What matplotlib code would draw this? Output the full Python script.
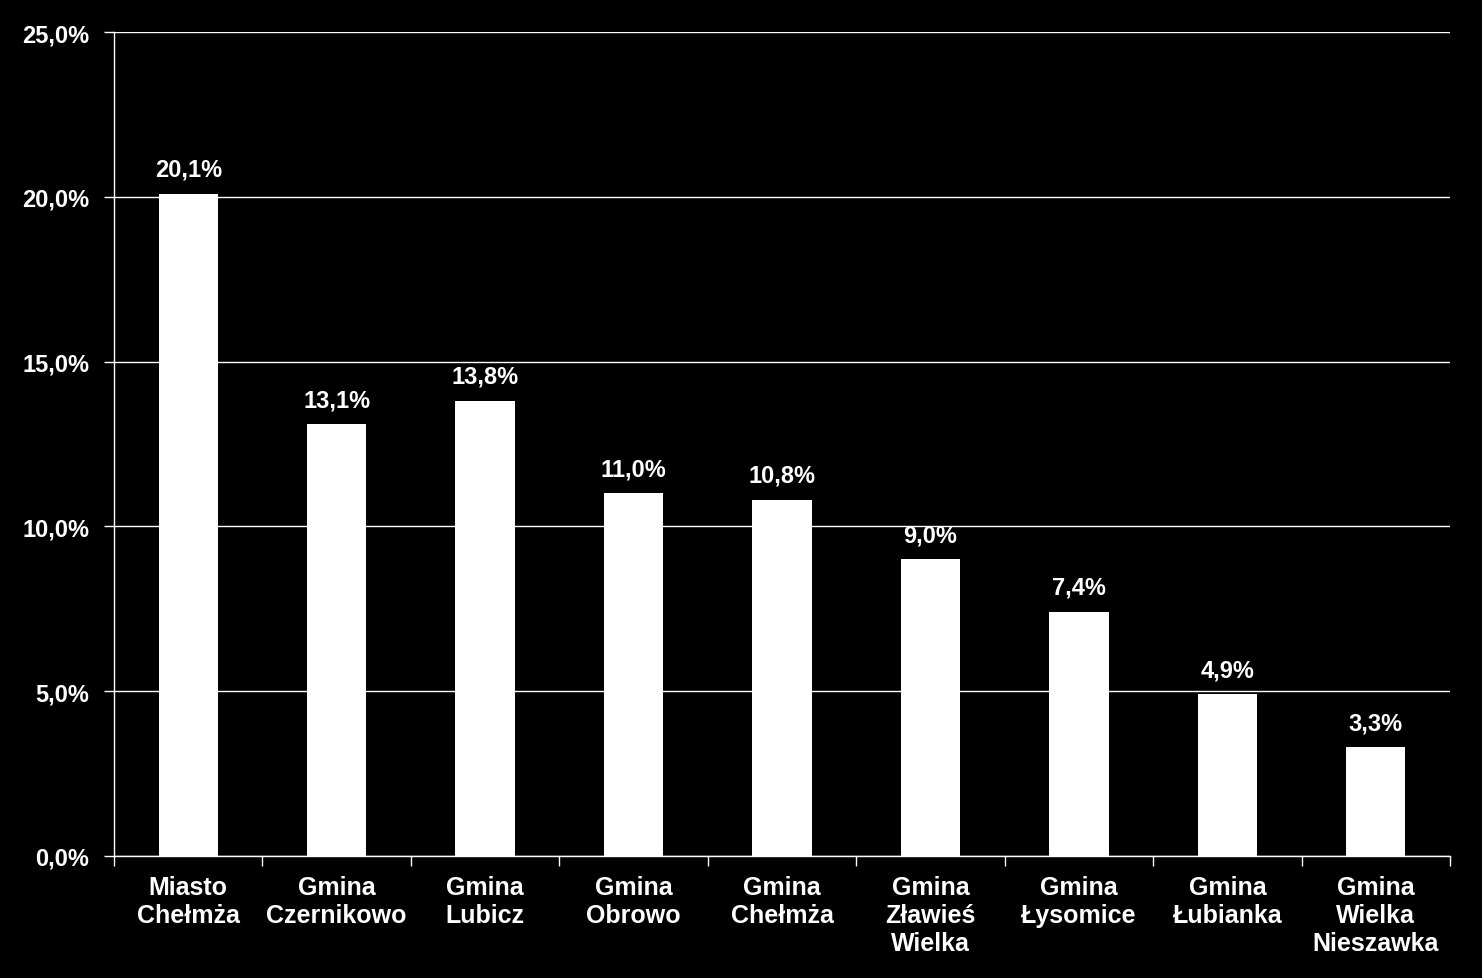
import matplotlib
matplotlib.use("Agg")
import matplotlib.pyplot as plt
from matplotlib.ticker import FuncFormatter, FixedLocator
import numpy as np

categories = ["Miasto\nChełmża", "Gmina\nCzernikowo", "Gmina\nLubicz", "Gmina\nObrowo",
              "Gmina\nChełmża", "Gmina\nZławieś\nWielka", "Gmina\nŁysomice",
              "Gmina\nŁubianka", "Gmina\nWielka\nNieszawka"]
values = [20.1, 13.1, 13.8, 11.0, 10.8, 9.0, 7.4, 4.9, 3.3]
yticks = [0, 5, 10, 15, 20, 25]

plt.rcParams['font.family'] = ['Liberation Sans', 'DejaVu Sans']
plt.rcParams['font.weight'] = 'bold'

fig = plt.figure(figsize=(14.82, 9.79), dpi=100, facecolor='black')
ax = fig.add_axes([114/1482, 1 - 857/979, (1450-114)/1482, (857-33)/979])
ax.set_facecolor('black')

x = np.arange(len(values))
ax.bar(x, values, width=0.4, color='white', zorder=3)
for xi, v in zip(x, values):
    ax.text(xi, v + 0.4, f"{v:.1f}%".replace('.', ','), ha='center', va='bottom',
            color='white', fontsize=17, fontweight='bold')

ax.set_xlim(-0.5, len(values) - 0.5)
ax.set_ylim(0, 25)
ax.set_yticks(yticks)
ax.yaxis.set_major_formatter(FuncFormatter(lambda v, p: f"{v:.1f}%".replace('.', ',')))
ax.grid(axis='y', color='white', linewidth=1.0, zorder=0)

ax.set_xticks(x)
ax.set_xticklabels(categories, color='white', fontsize=18, fontweight='bold', linespacing=1.2)
ax.xaxis.set_minor_locator(FixedLocator(np.arange(-0.5, len(values), 1.0)))
ax.tick_params(axis='x', which='major', length=0, pad=14)
ax.tick_params(axis='x', which='minor', length=7, color='white', width=1)
ax.tick_params(axis='y', length=7, color='white', width=1, labelcolor='white', labelsize=17, pad=11)

for s in ['top', 'right']:
    ax.spines[s].set_visible(False)
for s in ['left', 'bottom']:
    ax.spines[s].set_color('white')
    ax.spines[s].set_linewidth(1.0)

fig.savefig("out.png", dpi=100, facecolor='black')
